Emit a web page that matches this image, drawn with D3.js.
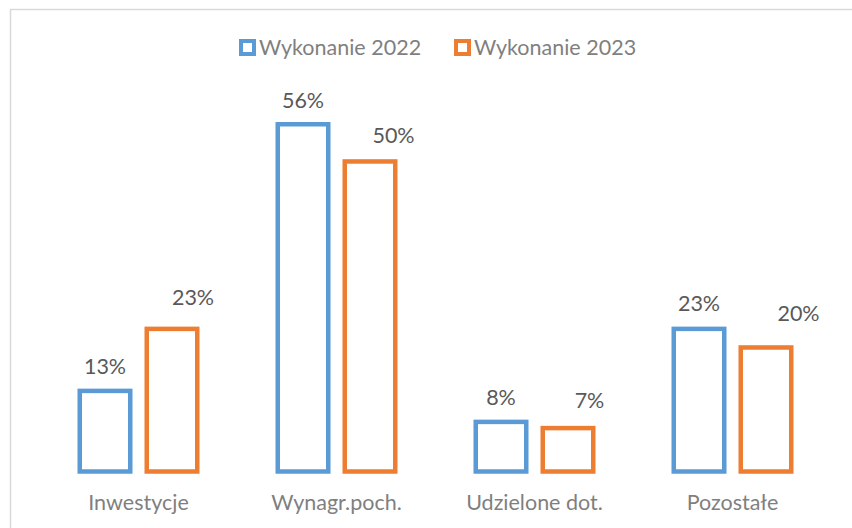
<!DOCTYPE html>
<html>
<head>
<meta charset="utf-8">
<script src="https://cdn.jsdelivr.net/npm/d3@7"></script>
<style>
  html, body { margin: 0; padding: 0; background: #fff; }
  svg { display: block; }
  text { font-family: Lato, "Open Sans", sans-serif; }
</style>
</head>
<body>
<svg id="chart" width="852" height="528"></svg>
<script>
// ---- data ----
const categories = ["Inwestycje", "Wynagr.poch.", "Udzielone dot.", "Pozostałe"];
const seriesNames = ["Wykonanie 2022", "Wykonanie 2023"];
const values2022 = [13, 56, 8, 23];
const values2023 = [23, 50, 7, 20];
const labels2022 = ["13%", "56%", "8%", "23%"];
const labels2023 = ["23%", "50%", "7%", "20%"];

// ---- layout (not data) ----
const W = 852, H = 528;
const colors = ["#5B9BD5", "#ED7D31"];
const strokeW = 4.5;
const baseY = 471.5;
// label nudges (dx, gap above bar outer top)
const labelDx = [[0, 0, 0, 0], [21, 23.5, 21.5, 32.5]];
const labelGap = [[15, 14, 15, 16], [22, 16, 18, 24]];

const svg = d3.select("#chart");

// frame
svg.append("rect")
  .attr("x", 10.5).attr("y", 9.5)
  .attr("width", W + 20).attr("height", H + 20)
  .attr("fill", "none").attr("stroke", "#d9d9d9").attr("stroke-width", 1.5);

const x0 = d3.scaleBand().domain(categories).range([39.5, 831.5]).paddingInner(0).paddingOuter(0);
const groupW = 117.5;
const x1 = d3.scaleBand().domain(seriesNames)
  .range([(x0.bandwidth() - groupW) / 2, (x0.bandwidth() + groupW) / 2])
  .paddingInner(16.5 / 67).paddingOuter(0);

const y = d3.scaleLinear().domain([0, 56]).range([baseY, 124.25]);

const seriesVals = [values2022, values2023];
const seriesLabels = [labels2022, labels2023];

seriesNames.forEach((s, si) => {
  const g = svg.append("g");
  const data = categories.map((c, i) => ({ c, i, v: seriesVals[si][i], l: seriesLabels[si][i] }));
  g.selectAll("rect").data(data).join("rect")
    .attr("x", d => x0(d.c) + x1(s))
    .attr("y", d => y(d.v))
    .attr("width", x1.bandwidth())
    .attr("height", d => y(0) - y(d.v))
    .attr("fill", "#fff")
    .attr("stroke", colors[si])
    .attr("stroke-width", strokeW);
  g.selectAll("text").data(data).join("text")
    .attr("x", d => x0(d.c) + x1(s) + x1.bandwidth() / 2 + labelDx[si][d.i])
    .attr("y", d => y(d.v) - strokeW / 2 - labelGap[si][d.i])
    .attr("text-anchor", "middle")
    .attr("font-size", 21.5)
    .attr("fill", "#595959")
    .text(d => d.l);
});

// category axis labels
const xAxis = d3.axisBottom(x0).tickSize(0).tickPadding(0);
const ax = svg.append("g").attr("transform", `translate(0,${baseY})`).call(xAxis);
ax.select(".domain").remove();
ax.selectAll("text")
  .attr("dy", null)
  .attr("y", 38.5)
  .attr("font-size", 21.5)
  .attr("font-family", "Lato, 'Open Sans', sans-serif")
  .attr("fill", "#7f7f7f");

// legend
const legendX = [247.5, 462.5];
const legend = svg.append("g");
seriesNames.forEach((s, si) => {
  legend.append("rect")
    .attr("x", legendX[si] - 6.5).attr("y", 41)
    .attr("width", 13).attr("height", 13)
    .attr("fill", "#fff").attr("stroke", colors[si]).attr("stroke-width", 4);
  legend.append("text")
    .attr("x", legendX[si] + 11.5).attr("y", 55)
    .attr("font-size", 21.5)
    .attr("fill", "#7f7f7f")
    .text(s);
});
</script>
</body>
</html>
